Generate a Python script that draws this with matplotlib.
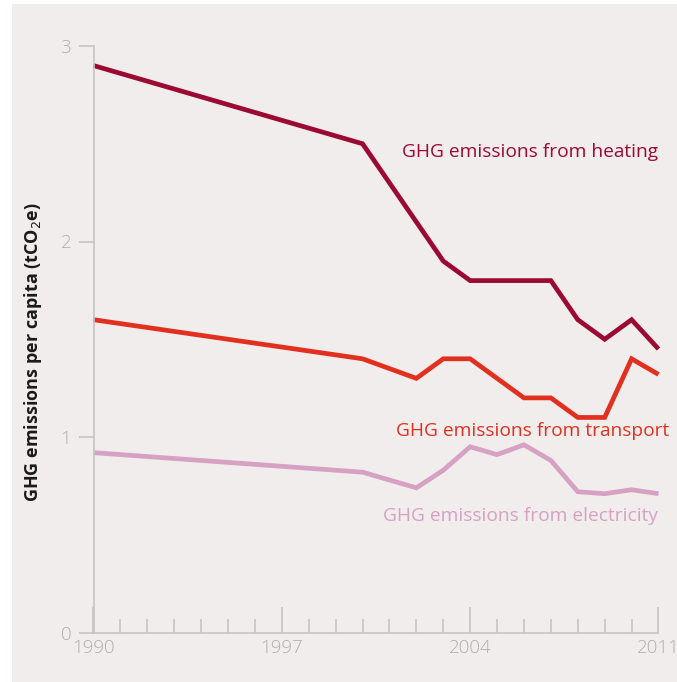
import matplotlib.pyplot as plt
from matplotlib.patches import Rectangle

years = [1990, 2000, 2001, 2002, 2003, 2004, 2005, 2006, 2007, 2008, 2009, 2010, 2011]
heating = [2.9, 2.5, 2.3, 2.1, 1.9, 1.8, 1.8, 1.8, 1.8, 1.6, 1.5, 1.6, 1.45]
transport = [1.6, 1.4, 1.35, 1.3, 1.4, 1.4, 1.3, 1.2, 1.2, 1.1, 1.1, 1.4, 1.32]
electricity = [0.92, 0.82, 0.78, 0.74, 0.83, 0.95, 0.91, 0.96, 0.88, 0.72, 0.71, 0.73, 0.71]

series_labels = ['GHG emissions from heating', 'GHG emissions from transport',
                 'GHG emissions from electricity']
x_major = [1990, 1997, 2004, 2011]
y_ticks = [0, 1, 2, 3]

bg = '#f1edec'
axis_col = '#c9c3bf'
tick_col = '#b5ada5'
c_heat = '#9b0a33'
c_trans = '#e2301f'
c_elec = '#d6a1c2'

plt.rcParams['font.family'] = ['Open Sans', 'DejaVu Sans']

fig = plt.figure(figsize=(6.77, 6.82), dpi=100, facecolor='white')
fig.patches.append(Rectangle((12 / 677, 0), 1, 678 / 682, transform=fig.transFigure,
                             facecolor=bg, edgecolor='none', zorder=-1))

W, H = 677, 682
x0, x1 = 93.5, 658.5
y0, y3 = 632.5, 46
ax = fig.add_axes([x0 / W, 1 - y0 / H, (x1 - x0) / W, (y0 - y3) / H])
ax.set_zorder(1)
ax.set_facecolor('none')
ax.set_xlim(1990, 2011)
ax.set_ylim(0, 3)

for vals, col in [(heating, c_heat), (transport, c_trans), (electricity, c_elec)]:
    ax.plot(years, vals, color=col, lw=3.4, solid_joinstyle='miter',
            solid_capstyle='butt', clip_on=False)

ax.text(2011, 2.46, series_labels[0], color=c_heat, fontsize=13.8, ha='right', va='center')
ax.text(2011.4, 1.03, series_labels[1], color=c_trans, fontsize=13.8, ha='right', va='center')
ax.text(2011, 0.595, series_labels[2], color=c_elec, fontsize=13.8, ha='right', va='center')

for s in ['top', 'right']:
    ax.spines[s].set_visible(False)
for s in ['left', 'bottom']:
    ax.spines[s].set_color(axis_col)
    ax.spines[s].set_linewidth(1.2)

ax.set_yticks(y_ticks)
ax.set_yticklabels([str(v) for v in y_ticks])
ax.tick_params(axis='y', direction='out', length=11, width=1.2, color=axis_col,
               labelcolor=tick_col, labelsize=13.5, pad=5)

ax.set_xticks(x_major)
ax.set_xticklabels([str(v) for v in x_major])
ax.set_xticks(range(1990, 2012), minor=True)
ax.tick_params(axis='x', which='major', direction='in', length=19, width=1.2,
               color=axis_col, labelcolor=tick_col, labelsize=13.5, pad=5)
ax.tick_params(axis='x', which='minor', direction='in', length=10, width=1.2,
               color=axis_col)
for lab in ax.get_xticklabels() + ax.get_yticklabels():
    lab.set_fontweight('light')

ax.set_ylabel('GHG emissions per capita (tCO$_2$e)', fontsize=13, fontweight='bold',
              color='#1a1a1a')
ax.yaxis.set_label_coords(-49 / (x1 - x0), 0.5 - (352 - (y0 + y3) / 2) / (y0 - y3))

fig.savefig('out.png', dpi=100, facecolor='white')
